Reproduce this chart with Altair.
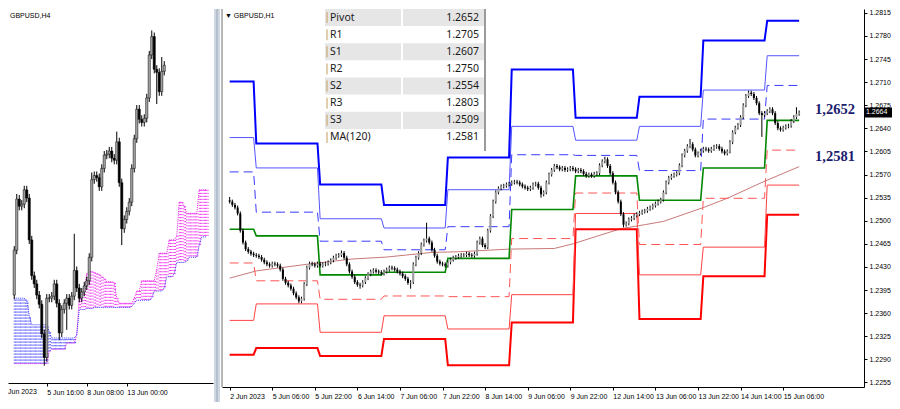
import json
import altair as alt
import pandas as pd

# ---------------- H1 panel (right) ----------------
H1_OPEN0 = 1.2531
H1_CLOSE = [
    1.2529, 1.2524, 1.2520, 1.2511, 1.2485, 1.2467, 1.2457, 1.2453, 1.2450, 1.2448,
    1.2447, 1.2445, 1.2441, 1.2437, 1.2434, 1.2432, 1.2435, 1.2434, 1.2432, 1.2426,
    1.2412, 1.2406, 1.2402, 1.2397, 1.2390, 1.2384, 1.2378, 1.2382, 1.2404, 1.2429,
    1.2435, 1.2434, 1.2432, 1.2435, 1.2432, 1.2434, 1.2435, 1.2437, 1.2440, 1.2444,
    1.2447, 1.2448, 1.2451, 1.2444, 1.2434, 1.2423, 1.2415, 1.2407, 1.2403, 1.2402,
    1.2407, 1.2413, 1.2419, 1.2423, 1.2425, 1.2423, 1.2422, 1.2420, 1.2423, 1.2426,
    1.2429, 1.2428, 1.2426, 1.2423, 1.2420, 1.2416, 1.2412, 1.2406, 1.2407, 1.2434,
    1.2444, 1.2451, 1.2464, 1.2470, 1.2473, 1.2467, 1.2456, 1.2447, 1.2438, 1.2435,
    1.2434, 1.2432, 1.2437, 1.2441, 1.2444, 1.2445, 1.2447, 1.2448, 1.2448, 1.2450,
    1.2448, 1.2447, 1.2450, 1.2467, 1.2473, 1.2463, 1.2460, 1.2485, 1.2507, 1.2529,
    1.2543, 1.2549, 1.2552, 1.2553, 1.2555, 1.2556, 1.2558, 1.2559, 1.2558, 1.2555,
    1.2552, 1.2550, 1.2548, 1.2550, 1.2555, 1.2556, 1.2550, 1.2540, 1.2543, 1.2558,
    1.2570, 1.2577, 1.2583, 1.2581, 1.2578, 1.2580, 1.2577, 1.2578, 1.2580, 1.2578,
    1.2575, 1.2577, 1.2575, 1.2571, 1.2568, 1.2570, 1.2568, 1.2571, 1.2572, 1.2584,
    1.2590, 1.2593, 1.2583, 1.2572, 1.2558, 1.2543, 1.2529, 1.2510, 1.2494, 1.2496,
    1.2502, 1.2504, 1.2508, 1.2510, 1.2512, 1.2514, 1.2515, 1.2518, 1.2520, 1.2523,
    1.2526, 1.2529, 1.2532, 1.2543, 1.2558, 1.2565, 1.2568, 1.2570, 1.2572, 1.2584,
    1.2599, 1.2606, 1.2613, 1.2616, 1.2608, 1.2599, 1.2602, 1.2606, 1.2609, 1.2608,
    1.2606, 1.2609, 1.2612, 1.2613, 1.2609, 1.2605, 1.2602, 1.2605, 1.2619, 1.2634,
    1.2641, 1.2645, 1.2657, 1.2675, 1.2689, 1.2694, 1.2692, 1.2686, 1.2678, 1.2663,
    1.2660, 1.2663, 1.2666, 1.2669, 1.2663, 1.2648, 1.2640, 1.2638, 1.2641, 1.2643,
    1.2644, 1.2651, 1.2657, 1.2662, 1.2664,
]
H1_HIGH = {0: 1.2536, 42: 1.2455, 74: 1.2497, 141: 1.2597, 173: 1.2624, 195: 1.2697, 213: 1.2672}
H1_LOW = {26: 1.2375, 49: 1.2397, 68: 1.2397, 117: 1.2535, 148: 1.2490, 200: 1.2627}

DAY_START = [0, 10, 34, 58, 82, 106, 130, 154, 178, 202]
LAST_BAR = 214
R3 = [1.2711, 1.2617, 1.2555, 1.2524, 1.2596, 1.2729, 1.2656, 1.2688, 1.2773, 1.2803]
R2 = [1.2626, 1.2580, 1.2503, 1.2489, 1.2547, 1.2643, 1.2622, 1.2643, 1.2698, 1.2750]
R1 = [1.2574, 1.2513, 1.2469, 1.2456, 1.2491, 1.2600, 1.2599, 1.2576, 1.2654, 1.2705]
PP = [1.2487, 1.2477, 1.2418, 1.2422, 1.2443, 1.2517, 1.2568, 1.2531, 1.2580, 1.2652]
S1 = [1.2436, 1.2409, 1.2381, 1.2386, 1.2385, 1.2473, 1.2542, 1.2464, 1.2534, 1.2607]
S2 = [1.2349, 1.2374, 1.2331, 1.2356, 1.2336, 1.2388, 1.2511, 1.2418, 1.2460, 1.2554]
S3 = [1.2297, 1.2307, 1.2295, 1.2321, 1.2281, 1.2346, 1.2487, 1.2351, 1.2416, 1.2509]

MA_IDX = [0, 10, 29, 46, 59, 76, 86, 105, 122, 129, 147, 156, 163, 178, 187, 200, 214]
MA_VAL = [1.2413, 1.2424, 1.2434, 1.2442, 1.2445, 1.2452, 1.2453, 1.2457, 1.2458, 1.2465,
          1.2488, 1.2494, 1.2499, 1.2520, 1.2534, 1.2558, 1.2582]

H1_LABELS = ["2 Jun 2023", "5 Jun 06:00", "5 Jun 22:00", "6 Jun 14:00", "7 Jun 06:00",
             "7 Jun 22:00", "8 Jun 14:00", "9 Jun 06:00", "9 Jun 22:00", "12 Jun 14:00",
             "13 Jun 06:00", "13 Jun 22:00", "14 Jun 14:00", "15 Jun 06:00"]
H1_LABEL_POS = [0, 16, 32, 48, 64, 80, 96, 112, 128, 144, 160, 176, 192, 208]
Y_TICKS = [1.2255, 1.2290, 1.2325, 1.2360, 1.2395, 1.2430, 1.2465, 1.2500, 1.2535,
           1.2570, 1.2605, 1.2640, 1.2675, 1.2710, 1.2745, 1.2780, 1.2815]

TABLE_NAMES = ["Pivot", "R1", "S1", "R2", "S2", "R3", "S3", "MA(120)"]
TABLE_VALUES = [1.2652, 1.2705, 1.2607, 1.2750, 1.2554, 1.2803, 1.2509, 1.2581]
ANNOT_TEXT = ["1,2652", "1,2581"]
ANNOT_LEVEL = [1.2652, 1.2581]
ANNOT_POS = [227.5, 227.5]
LAST_PRICE = 1.2664
TITLE_H1 = "▼ GBPUSD,H1"

# ---------------- H4 panel (left) ----------------
H4_OPEN0 = 1.2439
H4_CLOSE = [
    1.2483, 1.2533, 1.2526, 1.2528, 1.2542, 1.2534, 1.2493, 1.2458, 1.2450, 1.2439,
    1.2430, 1.2401, 1.2378, 1.2436, 1.2436, 1.2438, 1.2450, 1.2431, 1.2402, 1.2425,
    1.2431, 1.2436, 1.2429, 1.2438, 1.2463, 1.2446, 1.2436, 1.2442, 1.2448, 1.2453,
    1.2476, 1.2552, 1.2556, 1.2554, 1.2545, 1.2563, 1.2576, 1.2577, 1.2580, 1.2573,
    1.2571, 1.2589, 1.2549, 1.2504, 1.2513, 1.2521, 1.2530, 1.2563, 1.2592, 1.2621,
    1.2611, 1.2608, 1.2612, 1.2632, 1.2674, 1.2692, 1.2660, 1.2657, 1.2638, 1.2658,
    1.2664,
]
H4_HIGH = {1: 1.2538, 24: 1.2499, 31: 1.2559, 41: 1.2599, 55: 1.2698, 59: 1.2672}
H4_LOW = {12: 1.2370, 18: 1.2395, 21: 1.2405, 43: 1.2488, 57: 1.2626}
SPAN_A = [
    1.2372, 1.2372, 1.2372, 1.2372, 1.2372, 1.2372, 1.2372, 1.2372, 1.2372, 1.2372,
    1.2372, 1.2372, 1.2372, 1.2372, 1.2384, 1.2386, 1.2386, 1.2386, 1.2386, 1.2386,
    1.2386, 1.2392, 1.2392, 1.2392, 1.2392, 1.2400, 1.2436, 1.2434, 1.2446, 1.2460,
    1.2462, 1.2462, 1.2461, 1.2460, 1.2459, 1.2457, 1.2455, 1.2452, 1.2452, 1.2452,
    1.2451, 1.2436, 1.2431, 1.2431, 1.2431, 1.2431, 1.2431, 1.2431, 1.2436, 1.2443,
    1.2443, 1.2453, 1.2453, 1.2453, 1.2453, 1.2453, 1.2453, 1.2464, 1.2480, 1.2480,
    1.2480, 1.2480, 1.2493, 1.2493, 1.2493, 1.2497, 1.2530, 1.2530, 1.2526, 1.2519,
    1.2519, 1.2519, 1.2519, 1.2519, 1.2542, 1.2542, 1.2542, 1.2542,
]
SPAN_B = [
    1.2436, 1.2436, 1.2436, 1.2436, 1.2436, 1.2434, 1.2419, 1.2410, 1.2410, 1.2410,
    1.2410, 1.2410, 1.2410, 1.2410, 1.2403, 1.2397, 1.2397, 1.2397, 1.2397, 1.2397,
    1.2397, 1.2397, 1.2397, 1.2397, 1.2397, 1.2400, 1.2425, 1.2425, 1.2425, 1.2426,
    1.2426, 1.2426, 1.2427, 1.2427, 1.2427, 1.2427, 1.2427, 1.2427, 1.2427, 1.2427,
    1.2427, 1.2427, 1.2427, 1.2427, 1.2427, 1.2427, 1.2427, 1.2428, 1.2431, 1.2434,
    1.2434, 1.2434, 1.2434, 1.2434, 1.2434, 1.2436, 1.2443, 1.2443, 1.2443, 1.2443,
    1.2446, 1.2457, 1.2457, 1.2457, 1.2460, 1.2471, 1.2471, 1.2471, 1.2471, 1.2472,
    1.2476, 1.2476, 1.2476, 1.2476, 1.2488, 1.2496, 1.2496, 1.2496,
]
H4_LABELS = ["5 Jun 16:00", "8 Jun 08:00", "13 Jun 00:00"]
H4_LABEL_POS = [13, 29, 45]
H4_CUT_LABEL = "Jun 2023"
TITLE_H4 = "GBPUSD,H4"

# ---------------- styling ----------------
RW, RH = 642, 378
LW, LH = 205, 374
FONT = "Liberation Sans"
WICK_H1 = 0.0003
WICK_H4 = 0.0004
BULL_H1, BEAR_H1 = "#9c9c9c", "#000000"
BULL_H4, BEAR_H4 = "#a8a8a8", "#000000"
CLOUD_UP, CLOUD_DOWN = "#ee22ee", "#3333ff"


def candles(opens, closes, highs, lows, wick, bull, bear):
    rows = []
    for k, (o, c) in enumerate(zip(opens, closes)):
        rows.append({
            "i": k, "open": o, "close": c,
            "high": highs.get(k, max(o, c) + wick),
            "low": lows.get(k, min(o, c) - wick),
            "fill": bull if c >= o else bear,
        })
    return pd.DataFrame(rows)


h1 = candles([H1_OPEN0] + H1_CLOSE[:-1], H1_CLOSE, H1_HIGH, H1_LOW, WICK_H1, BULL_H1, BEAR_H1)
h4 = candles([H4_OPEN0] + H4_CLOSE[:-1], H4_CLOSE, H4_HIGH, H4_LOW, WICK_H4, BULL_H4, BEAR_H4)

piv_rows = []
for name, vals in [("R3", R3), ("R2", R2), ("R1", R1), ("P", PP), ("S1", S1), ("S2", S2), ("S3", S3)]:
    for d, v in enumerate(vals):
        s = DAY_START[d]
        e = DAY_START[d + 1] - 1 if d + 1 < len(DAY_START) else LAST_BAR
        piv_rows.append({"lvl": name, "i": s, "v": v})
        piv_rows.append({"lvl": name, "i": e, "v": v})
piv = pd.DataFrame(piv_rows)
ma = pd.DataFrame({"i": MA_IDX, "v": MA_VAL})

PIV_STYLE = {
    "R3": dict(color="#0000ff", strokeWidth=2),
    "R2": dict(color="#5555ff", strokeWidth=1),
    "R1": dict(color="#3a3aff", strokeWidth=1, strokeDash=[9, 5]),
    "P": dict(color="#008800", strokeWidth=1.6),
    "S1": dict(color="#ff5555", strokeWidth=1, strokeDash=[9, 5]),
    "S2": dict(color="#ff4444", strokeWidth=1),
    "S3": dict(color="#ff0000", strokeWidth=2),
}


def label_expr(labels, pos):
    return f"{json.dumps(labels)}[indexof({json.dumps(pos)}, datum.value)]"


AX_COMMON = dict(title=None, grid=False, tickSize=3, labelPadding=2, labelFontSize=7,
                 labelFont=FONT, labelColor="#000", tickColor="#000", domainColor="#000",
                 labelOverlap=False, labelFlush=False)

XR_SCALE = alt.Scale(domain=[-1, 236.5], nice=False, zero=False)
YR_SCALE = alt.Scale(domain=[1.22481, 1.28208], nice=False, zero=False)
XR_AXIS = alt.Axis(values=H1_LABEL_POS, labelExpr=label_expr(H1_LABELS, H1_LABEL_POS),
                   labelAlign="left", **AX_COMMON)
YR_AXIS = alt.Axis(orient="right", values=Y_TICKS, format=".4f", **AX_COMMON)


def xr(f="i"):
    return alt.X(f"{f}:Q", scale=XR_SCALE, axis=XR_AXIS)


def yr(f):
    return alt.Y(f"{f}:Q", scale=YR_SCALE, axis=YR_AXIS)


XL_SCALE = alt.Scale(domain=[-0.5, 77.5], nice=False, zero=False)
YL_SCALE = alt.Scale(domain=[1.2353, 1.2719], nice=False, zero=False)
XL_AXIS = alt.Axis(values=H4_LABEL_POS, labelExpr=label_expr(H4_LABELS, H4_LABEL_POS),
                   labelAlign="left", **AX_COMMON)


def xl(f="j"):
    return alt.X(f"{f}:Q", scale=XL_SCALE, axis=XL_AXIS)


def yl(f):
    return alt.Y(f"{f}:Q", scale=YL_SCALE, axis=None)


FILL = alt.Color("fill:N", scale=None)

# ---------------- right panel ----------------
right_layers = []
right_layers.append(alt.Chart(ma).mark_line(color="#c97a7a", strokeWidth=1).encode(x=xr(), y=yr("v")))
for name in ["S3", "S2", "S1", "R1", "R2", "R3", "P"]:
    right_layers.append(
        alt.Chart(piv).transform_filter(alt.datum.lvl == name)
        .mark_line(**PIV_STYLE[name]).encode(x=xr(), y=yr("v"))
    )
right_layers.append(alt.Chart(h1).mark_rule(color="#000", strokeWidth=1).encode(
    x=xr(), y=yr("low"), y2=alt.Y2("high:Q")))
right_layers.append(alt.Chart(h1).mark_bar(width=2).encode(
    x=xr(), y=yr("open"), y2=alt.Y2("close:Q"), color=FILL))
ann = pd.DataFrame({"i": ANNOT_POS, "v": ANNOT_LEVEL, "t": ANNOT_TEXT})
right_layers.append(alt.Chart(ann).mark_text(
    font="Liberation Serif", fontSize=14.5, fontWeight="bold", color="#1c1c6e",
    baseline="middle", dy=-10).encode(x=xr(), y=yr("v"), text="t:N"))
tag = pd.DataFrame({"v": [LAST_PRICE]})
right_layers.append(alt.Chart(tag).mark_tick(orient="horizontal", size=27, thickness=10, color="#000", opacity=1).encode(
    x=alt.value(RW + 14.5), y=yr("v")))
right_layers.append(alt.Chart(tag).mark_text(font=FONT, fontSize=7, color="#fff", align="left", baseline="middle").encode(
    x=alt.value(RW + 2), y=yr("v"), text=alt.Text("v:Q", format=".4f")))
right_layers.append(alt.Chart(pd.DataFrame({"t": [TITLE_H1]})).mark_text(
    font=FONT, fontSize=7, color="#000", align="left", baseline="top").encode(
    x=alt.value(3), y=alt.value(3), text="t:N"))
right_layers.append(alt.Chart(pd.DataFrame({"t": [0]})).mark_rule(color="#6f6f6f", strokeWidth=1).encode(
    x=alt.value(0), y=alt.value(0), y2=alt.value(RH)))
price_layer = alt.layer(*right_layers)

# table overlay
tab = pd.DataFrame({"name": TABLE_NAMES, "val": TABLE_VALUES})
tab["fill"] = ["#e6e6e6" if k % 2 == 0 else "#ffffff" for k in range(len(tab))]
TY = alt.Y("name:N", sort=TABLE_NAMES,
           scale=alt.Scale(domain=TABLE_NAMES, range=[0, 137], paddingInner=0, paddingOuter=0), axis=None)
TX0, TX1, TDIV = 103, 262, 180
table_layer = alt.layer(
    alt.Chart(tab).mark_rect().encode(y=TY, x=alt.value(TX0), x2=alt.value(TX1), color=FILL),
    alt.Chart(tab).mark_tick(orient="vertical", size=11, thickness=1.5, color="#c9a062").encode(y=TY, x=alt.value(TX0 + 2)),
    alt.Chart(tab).mark_text(font="Noto Sans", fontSize=10.5, color="#1a1a1a", align="left", baseline="middle").encode(
        y=TY, x=alt.value(TX0 + 5), text="name:N"),
    alt.Chart(tab).mark_text(font="Noto Sans", fontSize=10.5, color="#1a1a1a", align="right", baseline="middle").encode(
        y=TY, x=alt.value(TX1 - 5), text=alt.Text("val:Q", format=".4f")),
    alt.Chart(tab).mark_rule(color="#ffffff", strokeWidth=1.5).encode(
        x=alt.value(TDIV), y=alt.value(0), y2=alt.value(137)),
    alt.Chart(tab).mark_rule(color="#9a9a9a", strokeWidth=2).encode(
        x=alt.value(TX1 + 1), y=alt.value(0), y2=alt.value(142)),
)

right = alt.layer(price_layer, table_layer).resolve_scale(y="independent").properties(width=RW, height=RH)

# ---------------- left panel ----------------
cloud = pd.DataFrame({"j": range(len(SPAN_A)), "a": SPAN_A, "b": SPAN_B})
cloud["fill"] = [CLOUD_UP if a >= b else CLOUD_DOWN for a, b in zip(SPAN_A, SPAN_B)]
h4j = h4.rename(columns={"i": "j"})

left_layers = [
    alt.Chart(cloud).mark_rule(strokeWidth=1, strokeDash=[1, 2]).encode(
        x=xl(), y=yl("a"), y2=alt.Y2("b:Q"), color=FILL),
    alt.Chart(cloud).mark_rule(strokeWidth=1, strokeDash=[1, 2], xOffset=1.3).encode(
        x=xl(), y=yl("a"), y2=alt.Y2("b:Q"), color=FILL),
    alt.Chart(cloud).mark_line(color=CLOUD_UP, strokeWidth=1, strokeDash=[1, 1]).encode(x=xl(), y=yl("a")),
    alt.Chart(cloud).mark_line(color=CLOUD_DOWN, strokeWidth=1, strokeDash=[1, 1]).encode(x=xl(), y=yl("b")),
    alt.Chart(h4j).mark_rule(color="#000", strokeWidth=1).encode(x=xl(), y=yl("low"), y2=alt.Y2("high:Q")),
    alt.Chart(h4j).mark_bar(width=2.2, stroke="#000", strokeWidth=0.5).encode(
        x=xl(), y=yl("open"), y2=alt.Y2("close:Q"), color=FILL),
    alt.Chart(pd.DataFrame({"t": [TITLE_H4]})).mark_text(
        font=FONT, fontSize=7, color="#000", align="left", baseline="top").encode(
        x=alt.value(2), y=alt.value(3), text="t:N"),
    alt.Chart(pd.DataFrame({"t": [H4_CUT_LABEL]})).mark_text(
        font=FONT, fontSize=7, color="#000", align="left", baseline="top").encode(
        x=alt.value(0), y=alt.value(LH + 5), text="t:N"),
    alt.Chart(pd.DataFrame({"t": [0]})).mark_rect(color="#cfd7e2").encode(
        x=alt.value(LW + 1), x2=alt.value(LW + 7), y=alt.value(0), y2=alt.value(LH + 19)),
    alt.Chart(pd.DataFrame({"t": [0]})).mark_rule(color="#9aa6b6", strokeWidth=1).encode(
        x=alt.value(LW + 4), y=alt.value(0), y2=alt.value(LH + 19)),
]
left = alt.layer(*left_layers).properties(width=LW, height=LH)

chart = (
    alt.hconcat(left, right, spacing=1)
    .properties(padding={"left": 0, "top": 0, "right": 0, "bottom": 0}, background="white")
    .configure_view(stroke=None)
)
chart.save("out.html", embed_options={"renderer": "svg", "actions": False})
